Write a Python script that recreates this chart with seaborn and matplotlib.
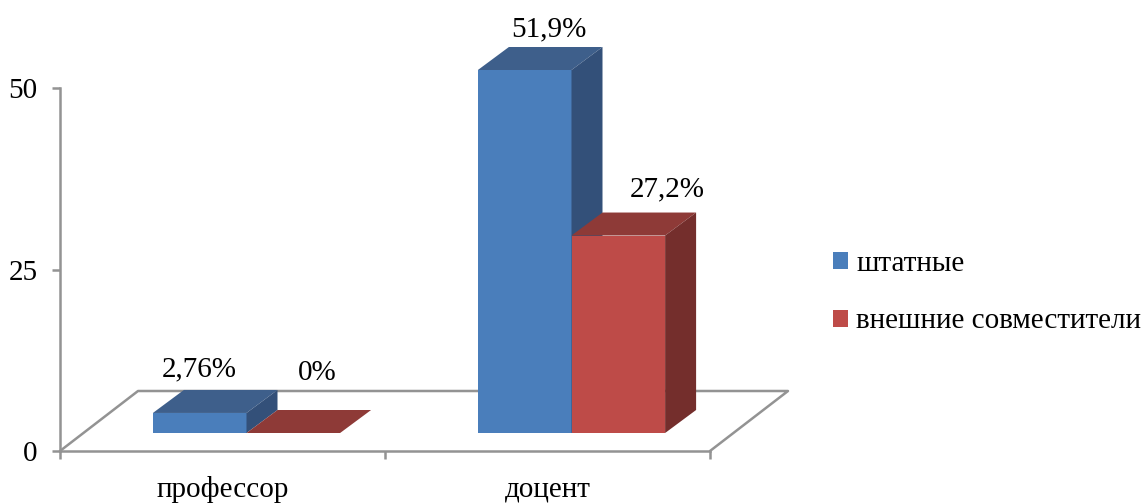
import matplotlib
matplotlib.use("Agg")
import matplotlib.pyplot as plt
import numpy as np
import pandas as pd
import seaborn as sns
from matplotlib.patches import Polygon

# values
categories = ["профессор", "доцент"]
series_names = ["штатные", "внешние совместители"]
staff = [2.76, 51.9]
external = [0.0, 27.2]
value_labels = [["2,76%", "51,9%"], ["0%", "27,2%"]]
y_ticks = [0, 25, 50]

# colours: front, top, side
blue = ["#4a7ebb", "#3e5f8b", "#335079"]
red = ["#be4b48", "#8e3a37", "#742e2c"]
grey = "#939393"

sns.set_theme(style="white")
plt.rcParams["font.family"] = ["Liberation Serif", "DejaVu Serif"]
plt.rcParams["font.size"] = 21
plt.rcParams["text.color"] = "black"

W, H = 1143, 503
fig = plt.figure(figsize=(W / 100, H / 100), dpi=100)
ax = fig.add_axes([60 / W, (H - 451) / H, 650 / W, 363 / H])

# the chart's value axis stops at 50, taller bars are cut there
df = pd.DataFrame({
    "category": categories * 2,
    "series": [series_names[0]] * 2 + [series_names[1]] * 2,
    "value": staff + external,
})
df["drawn"] = df["value"].clip(upper=y_ticks[-1])

sns.barplot(data=df, x="category", y="drawn", hue="series",
            palette=[blue[0], red[0]], width=0.576, gap=0, saturation=1,
            edgecolor="none", linewidth=0, legend=False, ax=ax)

ax.set_xlim(-0.5, 1.5)
ax.set_ylim(0, 50)

px_x = 2 / 650   # data units per pixel
px_y = 50 / 363

# fake 3d: bars stand on a floor a bit behind the axis line
shift_x, shift_y = 24 * px_x, 18 * px_y
depth_x, depth_y = 31 * px_x, 23 * px_y
floor_x, floor_y = 78 * px_x, 60 * px_y

ax.plot([-0.5, -0.5 + floor_x, 1.5 + floor_x, 1.5],
        [0, floor_y, floor_y, 0], color=grey, lw=1.8, clip_on=False, zorder=1)

# label offsets from the bar's front centre / back top edge, in pixels
label_dx = [[0, 24], [24, 49]]
label_dy = [[21, 18], [37, 23]]

for i, container in enumerate(ax.containers):
    colors = blue if i == 0 else red
    for j, bar in enumerate(container):
        bar.set_x(bar.get_x() + shift_x)
        bar.set_y(shift_y)
        bar.set_zorder(3 + i)
        bar.set_clip_on(False)
        x0 = bar.get_x()
        x1 = x0 + bar.get_width()
        y0 = shift_y
        y1 = y0 + bar.get_height()
        top = [(x0, y1), (x1, y1), (x1 + depth_x, y1 + depth_y), (x0 + depth_x, y1 + depth_y)]
        side = [(x1, y0), (x1 + depth_x, y0 + depth_y), (x1 + depth_x, y1 + depth_y), (x1, y1)]
        ax.add_patch(Polygon(top, fc=colors[1], ec="none", zorder=3 + i, clip_on=False))
        if bar.get_height() > 0:
            ax.add_patch(Polygon(side, fc=colors[2], ec="none", zorder=3 + i, clip_on=False))
        ax.annotate(value_labels[i][j], (x0 + bar.get_width() / 2, y1 + depth_y),
                    xytext=(label_dx[i][j] * 0.72, label_dy[i][j] * 0.72),
                    textcoords="offset points", ha="center", va="center",
                    fontsize=21, color="black", annotation_clip=False, zorder=10)

# axis lines and ticks
sns.despine(ax=ax)
for name in ["left", "bottom"]:
    ax.spines[name].set_color(grey)
    ax.spines[name].set_linewidth(1.8)
ax.set_xlabel("")
ax.set_ylabel("")
ax.set_yticks(y_ticks)
ax.tick_params(axis="y", left=True, length=6, width=1.8, color=grey, pad=10,
               labelsize=21, labelcolor="black")
ax.set_xticks([-0.5, 0.5, 1.5])
ax.set_xticklabels([])
ax.tick_params(axis="x", which="major", bottom=True, length=6, width=1.8, color=grey)
ax.set_xticks(np.arange(len(categories)), labels=categories, minor=True)
ax.tick_params(axis="x", which="minor", bottom=False, length=0, pad=18,
               labelsize=21, labelcolor="black")

handles = [plt.Rectangle((0, 0), 1, 1, fc=c[0], ec="none") for c in (blue, red)]
fig.legend(handles, series_names, loc="upper left",
           bbox_to_anchor=(833 / W, 1 - 251 / H), bbox_transform=fig.transFigure,
           frameon=False, fontsize=21, borderpad=0, borderaxespad=0,
           handlelength=0.51, handleheight=0.51, handletextpad=0.28, labelspacing=1.08)

fig.savefig("out.png", dpi=100, facecolor="white")
